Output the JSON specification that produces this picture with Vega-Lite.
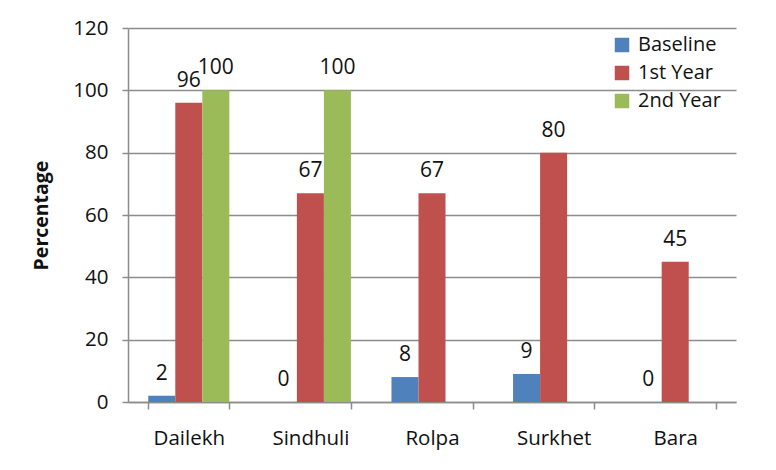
{
  "$schema": "https://vega.github.io/schema/vega-lite/v6.json",
  "width": 608,
  "height": 374,
  "autosize": {"type": "none"},
  "padding": {"left": 128, "top": 28, "right": 40, "bottom": 68},
  "background": "white",
  "config": {
    "view": {"stroke": null},
    "font": "Open Sans",
    "axis": {"labelFont": "Open Sans", "titleFont": "Open Sans", "labelColor": "#111111", "titleColor": "#111111"},
    "legend": {"labelFont": "Open Sans"}
  },
  "data": {
    "values": [
      {"district": "Dailekh", "period": "Baseline", "value": 2},
      {"district": "Dailekh", "period": "1st Year", "value": 96},
      {"district": "Dailekh", "period": "2nd Year", "value": 100},
      {"district": "Sindhuli", "period": "Baseline", "value": 0},
      {"district": "Sindhuli", "period": "1st Year", "value": 67},
      {"district": "Sindhuli", "period": "2nd Year", "value": 100},
      {"district": "Rolpa", "period": "Baseline", "value": 8},
      {"district": "Rolpa", "period": "1st Year", "value": 67},
      {"district": "Surkhet", "period": "Baseline", "value": 9},
      {"district": "Surkhet", "period": "1st Year", "value": 80},
      {"district": "Bara", "period": "Baseline", "value": 0},
      {"district": "Bara", "period": "1st Year", "value": 45}
    ]
  },
  "encoding": {
    "x": {
      "field": "district",
      "type": "nominal",
      "sort": ["Dailekh", "Sindhuli", "Rolpa", "Surkhet", "Bara"],
      "scale": {"paddingInner": 0.3333, "paddingOuter": 0.1667},
      "axis": {
        "title": null,
        "labelAngle": 0,
        "labelFontSize": 20.5,
        "labelPadding": 19,
        "tickBand": "extent",
        "tickSize": 7,
        "tickColor": "#8c8c8c",
        "domainColor": "#8c8c8c",
        "domainWidth": 1.5,
        "tickWidth": 1.5
      }
    },
    "xOffset": {
      "field": "period",
      "type": "nominal",
      "scale": {"domain": ["Baseline", "1st Year", "2nd Year"], "paddingInner": 0, "paddingOuter": 0}
    },
    "y": {
      "field": "value",
      "type": "quantitative",
      "scale": {"domain": [0, 120], "nice": false},
      "axis": {
        "title": "Percentage",
        "titleFontSize": 19.5,
        "titleFontWeight": "bold",
        "titlePadding": 21,
        "values": [0, 20, 40, 60, 80, 100, 120],
        "labelFontSize": 20.5,
        "labelPadding": 14,
        "tickSize": 6,
        "tickColor": "#8c8c8c",
        "domainColor": "#8c8c8c",
        "domainWidth": 1.5,
        "tickWidth": 1.5,
        "gridColor": "#8c8c8c",
        "gridWidth": 1.5
      }
    }
  },
  "layer": [
    {
      "mark": {"type": "bar"},
      "encoding": {
        "color": {
          "field": "period",
          "type": "nominal",
          "scale": {"domain": ["Baseline", "1st Year", "2nd Year"], "range": ["#4F81BD", "#C0504D", "#9BBB59"]},
          "legend": {
            "title": null,
            "orient": "none",
            "legendX": 484,
            "legendY": 7,
            "symbolType": "square",
            "symbolSize": 210,
            "symbolStrokeWidth": 0,
            "labelFontSize": 20,
            "labelColor": "#111111",
            "rowPadding": 8,
            "labelOffset": 6
          }
        }
      }
    },
    {
      "mark": {"type": "text", "baseline": "alphabetic", "dy": -16, "fontSize": 21, "color": "#111111"},
      "encoding": {"text": {"field": "value", "type": "quantitative"}}
    }
  ]
}
